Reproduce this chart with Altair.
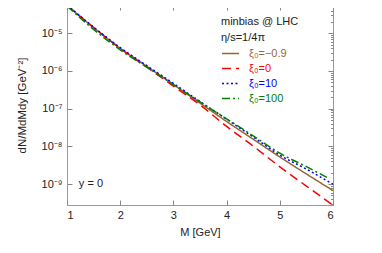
import altair as alt
import pandas as pd

# ---- data ----
M = [1.0, 1.5, 2.0, 2.5, 3.0, 3.5, 4.0, 4.5, 5.0, 5.5, 6.0]
brown = [5.5e-5, 1.41e-5, 3.98e-6, 1.32e-6, 4.37e-7, 1.41e-7, 4.57e-8, 1.55e-8, 5.25e-9, 1.86e-9, 6.76e-10]
red = [5.5e-5, 1.41e-5, 3.98e-6, 1.26e-6, 3.98e-7, 1.26e-7, 3.39e-8, 1.02e-8, 2.88e-9, 8.91e-10, 2.75e-10]
blue = [5.6e-5, 1.45e-5, 4.17e-6, 1.38e-6, 4.68e-7, 1.55e-7, 5.25e-8, 1.78e-8, 5.89e-9, 2.5e-9, 1.0e-9]
M_green = [1.0, 1.5, 2.0, 2.5, 3.0, 3.5, 4.0, 4.5, 5.0, 5.5, 5.9]
green = [5.25e-5, 1.26e-5, 3.63e-6, 1.26e-6, 4.37e-7, 1.51e-7, 5.37e-8, 1.91e-8, 6.61e-9, 2.9e-9, 1.48e-9]

series_names = ["ξ₀=−0.9", "ξ₀=0", "ξ₀=10", "ξ₀=100"]
series_colors = ["#996633", "#ff0000", "#0000ff", "#008000"]
series_dashes = [[1, 0], [9, 5], [2, 2.5], [8, 3, 2, 3]]

x_major = [1, 2, 3, 4, 5, 6]
x_minor = [1.2, 1.4, 1.6, 1.8, 2.2, 2.4, 2.6, 2.8, 3.2, 3.4, 3.6, 3.8,
           4.2, 4.4, 4.6, 4.8, 5.2, 5.4, 5.6, 5.8]
y_major = [1e-9, 1e-8, 1e-7, 1e-6, 1e-5]
y_minor = [m * d for d in [1e-10, 1e-9, 1e-8, 1e-7, 1e-6, 1e-5] for m in range(2, 10)]
y_minor = [v for v in y_minor if 2.8e-10 <= v <= 5.6e-5]

rows = []
for name, xs, ys in [(series_names[0], M, brown), (series_names[1], M, red),
                     (series_names[2], M, blue), (series_names[3], M_green, green)]:
    for a, b in zip(xs, ys):
        rows.append({"M": a, "v": b, "s": name})
df = pd.DataFrame(rows)

FONT = "Liberation Sans"
xs = alt.Scale(domain=[1, 6], nice=False, zero=False)
ys = alt.Scale(type="log", domain=[2.8e-10, 5.6e-5], nice=False, clamp=False)
TICK = "#888888"

label_expr = ("'10' + replace(replace(replace(replace(replace(replace(replace("
              "'' + round(log(datum.value)/LN10), '-', '⁻'), '5', '⁵'), '6', '⁶'), "
              "'7', '⁷'), '8', '⁸'), '9', '⁹'), '4', '⁴')")

color_expr = ("datum.label == 'ξ₀=0' ? '#ff0000' : datum.label == 'ξ₀=10' ? '#0000ff' : "
              "datum.label == 'ξ₀=100' ? '#008000' : '#996633'")

lines = alt.Chart(df).mark_line(strokeWidth=1.5, clip=True, interpolate="monotone").encode(
    x=alt.X("M:Q", scale=xs, title="M [GeV]",
            axis=alt.Axis(values=x_major, format="d", offset=-5, tickSize=5, tickColor=TICK,
                          domain=False, grid=False, labelPadding=4, labelFont=FONT,
                          labelFontSize=11, labelColor="#222", titleFont=FONT, titleFontSize=11,
                          titleFontWeight="normal", titleColor="#222", titlePadding=6)),
    y=alt.Y("v:Q", scale=ys, title="dN/MdMdy [GeV⁻²]",
            axis=alt.Axis(values=y_major, labelExpr=label_expr, offset=-5, tickSize=5,
                          tickColor=TICK, domain=False, grid=False, labelPadding=5,
                          labelFont=FONT, labelFontSize=11, labelColor="#222", titleFont=FONT,
                          titleFontSize=11.5, titleFontWeight="normal", titleColor="#222",
                          titlePadding=14)),
    color=alt.Color("s:N", scale=alt.Scale(domain=series_names, range=series_colors),
                    sort=series_names,
                    legend=alt.Legend(orient="none", legendX=154, legendY=11,
                                      title=["minbias @ LHC", "η/s=1/4π"], titleFont=FONT,
                                      titleFontSize=11, titleFontWeight="normal",
                                      titleColor="#222", titleLineHeight=16, titlePadding=1,
                                      labelFont=FONT, labelFontSize=11,
                                      labelColor=alt.ExprRef(color_expr),
                                      symbolType="stroke", symbolSize=289,
                                      symbolStrokeWidth=1.5, rowPadding=0, labelOffset=9)),
    strokeDash=alt.StrokeDash("s:N", scale=alt.Scale(domain=series_names, range=series_dashes),
                              sort=series_names, legend=None),
)

note = alt.Chart(pd.DataFrame({"M": [1.45], "v": [1e-9], "t": ["y = 0"]})).mark_text(
    font=FONT, fontSize=11, color="#222").encode(
    x=alt.X("M:Q", scale=xs, title=None,
            axis=alt.Axis(values=x_minor, labels=False, offset=-2.5, tickSize=2.5,
                          tickColor=TICK, domain=False, grid=False)),
    y=alt.Y("v:Q", scale=ys, title=None,
            axis=alt.Axis(values=y_minor, labels=False, offset=-2.5, tickSize=2.5,
                          tickColor=TICK, domain=False, grid=False)),
    text="t:N",
)

anchor = pd.DataFrame({"M": [1.0], "v": [1e-9]})
top_major = alt.Chart(anchor).mark_point(opacity=0).encode(
    x=alt.X("M:Q", scale=xs, title=None,
            axis=alt.Axis(orient="top", values=x_major, labels=False, offset=-5, tickSize=5,
                          tickColor=TICK, domain=False, grid=False)),
    y=alt.Y("v:Q", scale=ys, title=None,
            axis=alt.Axis(orient="right", values=y_major, labels=False, offset=-5, tickSize=5,
                          tickColor=TICK, domain=False, grid=False)),
)
top_minor = alt.Chart(anchor).mark_point(opacity=0).encode(
    x=alt.X("M:Q", scale=xs, title=None,
            axis=alt.Axis(orient="top", values=x_minor, labels=False, offset=-2.5,
                          tickSize=2.5, tickColor=TICK, domain=False, grid=False)),
    y=alt.Y("v:Q", scale=ys, title=None,
            axis=alt.Axis(orient="right", values=y_minor, labels=False, offset=-2.5,
                          tickSize=2.5, tickColor=TICK, domain=False, grid=False)),
)

chart = alt.layer(lines, note, top_major, top_minor).resolve_axis(
    x="independent", y="independent"
).properties(
    width=266, height=200,
    autosize=alt.AutoSizeParams(type="none"),
    padding={"left": 59, "top": -3, "right": 40, "bottom": 45},
).configure_view(stroke="#999999", strokeWidth=1)

chart.save("out.html", embed_options={"renderer": "svg", "actions": False})
